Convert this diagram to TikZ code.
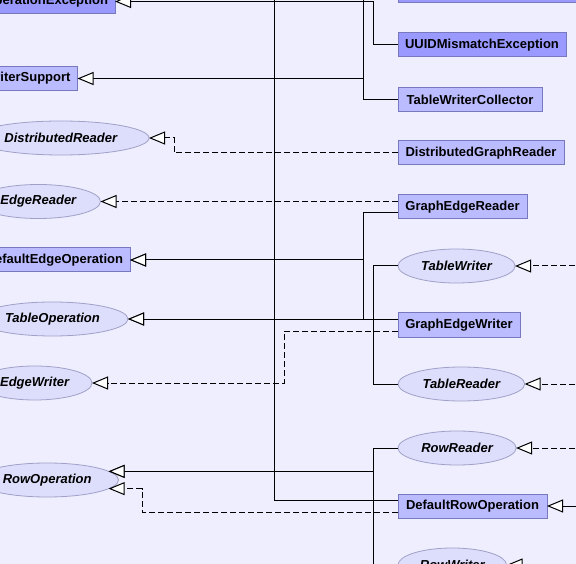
\documentclass[tikz,border=0pt]{standalone}
\usepackage{fontspec}
\setmainfont{Liberation Sans}
\usetikzlibrary{arrows.meta,shapes.geometric}
\definecolor{canvasbg}{RGB}{238,238,254}
\definecolor{classdark}{RGB}{153,153,255}
\definecolor{classlight}{RGB}{187,187,255}
\definecolor{classedge}{RGB}{120,120,190}
\definecolor{ifacefill}{RGB}{221,221,252}
\definecolor{ifaceedge}{RGB}{160,160,200}

\begin{document}
\begin{tikzpicture}[x=1pt,y=-1pt,
  font=\fontsize{13pt}{15pt}\selectfont\bfseries,
  classbox/.style={rectangle, draw=classedge, line width=1pt, fill=classlight,
    minimum height=24pt, inner xsep=7pt, inner ysep=0pt, outer sep=0pt},
  darkbox/.style={classbox, fill=classdark},
  iface/.style={ellipse, draw=ifaceedge, line width=0.8pt, fill=ifacefill,
    minimum height=34pt, inner xsep=6pt, inner ysep=3pt, outer sep=0pt,
    font=\fontsize{13pt}{15pt}\selectfont\bfseries\itshape},
  connector/.style={draw=black, line width=1pt},
  inherit/.style={connector, -{Triangle[length=16pt, width=13pt, fill=white]}},
  realize/.style={inherit, dash pattern=on 6pt off 3pt},
]
\useasboundingbox (0,0) rectangle (576,564);
\clip (0,0) rectangle (576,564);
\fill[canvasbg] (0,0) rectangle (576,564);

% free ends of connectors leaving the sheet
\coordinate (upA) at (274,-30);
\coordinate (upB) at (363,-30);
\coordinate (offR) at (620,0);

% classes on the left
\node[darkbox, anchor=east] (opex) at (115,1.5) {OperationException};
\node[classbox, anchor=east] (wsup) at (77.5,78.5) {WriterSupport};
\node[classbox, anchor=east] (deo) at (130,260) {DefaultEdgeOperation};

% interfaces on the left
\node[iface, anchor=east] (dr) at (149,138) {DistributedReader};
\node[iface, anchor=east] (er) at (100.5,201.5) {EdgeReader};
\node[iface, anchor=east] (to) at (128,319) {TableOperation};
\node[iface, anchor=east] (ew) at (92,383) {EdgeWriter};
\node[iface, anchor=east] (ro) at (118.5,480) {RowOperation};

% classes on the right
\node[darkbox, anchor=south west, minimum width=200pt] (topbox) at (398,3) {};
\node[darkbox, anchor=west, minimum width=168pt] (uuid) at (398,45) {UUIDMismatchException};
\node[classbox, anchor=west, minimum width=144pt] (twc) at (398,99.5) {TableWriterCollector};
\node[classbox, anchor=west, minimum width=166pt] (dgr) at (398,153) {DistributedGraphReader};
\node[classbox, anchor=west, minimum width=129pt] (ger) at (398,207) {GraphEdgeReader};
\node[classbox, anchor=west, minimum width=122pt] (gew) at (398,325) {GraphEdgeWriter};
\node[classbox, anchor=west, minimum width=149pt] (dro) at (398,506) {DefaultRowOperation};

% interfaces on the right
\node[iface, anchor=west] (tw) at (398,266) {TableWriter};
\node[iface, anchor=west] (tr) at (398,384) {TableReader};
\node[iface, anchor=west] (rr) at (398,448) {RowReader};
\node[iface, anchor=west] (rw) at (398,565) {RowWriter};

% generalizations
\draw[inherit] (uuid.west) -- ++(-25,0) |- (opex.east);
\draw[inherit] (twc.west) -- ++(-35,0) |- (wsup.east);
\draw[connector] (wsup.east -| upB) -- (upB);
\draw[inherit] ([yshift=-6pt]ger.west) -- ++(-35,0) |- (deo.east);
\draw[inherit] ([yshift=6pt]gew.west) -- ++(-35,0) |- (deo.east);
\draw[inherit] (tw.west) -- ++(-25,0) |- (to.east);
\draw[inherit] (tr.west) -- ++(-25,0) |- (to.east);
\draw[inherit] (rr.west) -- ++(-25,0) |- (ro.8);
\draw[inherit] (rw.west) -- ++(-25,0) |- (ro.8);
\draw[connector] ([yshift=6pt]dro.west) -| (upA);
\draw[inherit] (dro.east -| offR) -- (dro.east);

% realizations
\draw[realize] (dgr.west) -- ++(-224,0) |- (dr.east);
\draw[realize] (ger.west |- er.east) -- (er.east);
\draw[realize] ([yshift=-6pt]gew.west) -- ++(-114,0) |- (ew.east);
\draw[realize] ([yshift=-6pt]dro.west) -- ++(-256,0) |- (ro.-8);
\draw[realize] (tw.east -| offR) -- (tw.east);
\draw[realize] (tr.east -| offR) -- (tr.east);
\draw[realize] (rr.east -| offR) -- (rr.east);
\draw[realize] (rw.east -| offR) -- (rw.east);
\end{tikzpicture}
\end{document}
